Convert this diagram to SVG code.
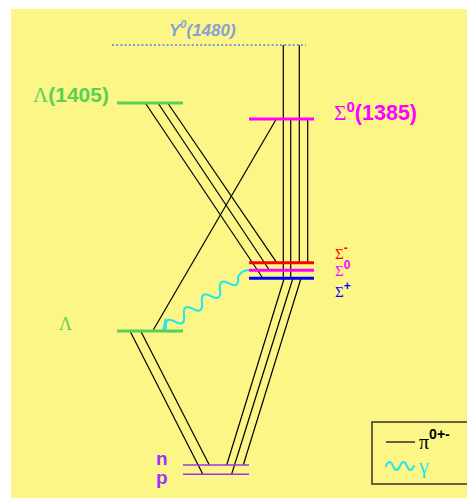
<svg xmlns="http://www.w3.org/2000/svg" width="467" height="498" viewBox="0 0 467 498">
<style>
.pi{stroke:#000;stroke-width:1.2;fill:none}
.sans{font-family:"Liberation Sans",Arial,sans-serif;font-weight:bold}
.serif{font-family:"Liberation Serif","Times New Roman",serif}
.gam{stroke:#1EE6F2;stroke-width:2;fill:none;stroke-linecap:round;stroke-linejoin:round}
</style>
<rect x="0" y="0" width="467" height="498" fill="#ffffff"/>
<rect x="11" y="9" width="456" height="489" fill="#FCF686"/>

<g id="connectors">
  <line class="pi" x1="283.3" y1="45" x2="283.3" y2="278"/>
  <line class="pi" x1="299.3" y1="45" x2="299.3" y2="262.7"/>
  <line class="pi" x1="290.7" y1="119" x2="290.7" y2="278"/>
  <line class="pi" x1="307.7" y1="119" x2="307.7" y2="262.7"/>
  <line class="pi" x1="276.3" y1="119" x2="152.7" y2="331"/>
  <line class="pi" x1="145.3" y1="103" x2="262.7" y2="278"/>
  <line class="pi" x1="158" y1="103" x2="269.3" y2="270"/>
  <line class="pi" x1="167.7" y1="103" x2="276.7" y2="262.7"/>
  <line class="pi" x1="284.3" y1="278" x2="226.7" y2="465"/>
  <line class="pi" x1="293" y1="278" x2="231.7" y2="474"/>
  <line class="pi" x1="301.1" y1="278" x2="243.3" y2="465"/>
  <line class="pi" x1="130" y1="331" x2="202.7" y2="474"/>
  <line class="pi" x1="140.7" y1="331" x2="209.3" y2="465"/>
  <path class="gam" d="M249,270 C243,270 240,273 238,277 Q239.5,289 229,283.4 T220,289.75 T211,296.1 T202,302.5 T193,308.9 T184,315.25 T175,321.6 T166,328 L163,331"/>
  <path class="gam" d="M165.5,319.5 L163,331 L175,331.5"/>
</g>

<g id="Y1480">
  <line x1="112" y1="45" x2="306" y2="45" stroke="#7F9BD6" stroke-width="2" stroke-dasharray="2,2.2"/>
  <text x="169" y="36" font-family="Liberation Sans,Arial,sans-serif" font-style="italic" font-weight="bold" font-size="17" fill="#86A0D8">Y<tspan font-size="11" dy="-8">0</tspan><tspan dy="8">(1480)</tspan></text>
</g>

<g id="L1405">
  <line x1="117" y1="103" x2="183" y2="103" stroke="#58D058" stroke-width="3"/>
  <text x="33" y="102" fill="#58D058" font-size="21"><tspan class="serif">Λ</tspan><tspan class="sans">(1405)</tspan></text>
</g>

<g id="S1385">
  <line x1="249" y1="119" x2="314" y2="119" stroke="#FF00FF" stroke-width="3"/>
  <text x="334" y="120" fill="#FF00FF" font-size="21.5"><tspan class="serif">Σ</tspan><tspan class="sans" font-size="15" dy="-8">0</tspan><tspan class="sans" dy="8">(1385)</tspan></text>
</g>

<g id="Sigmas">
  <line x1="249" y1="262.7" x2="314" y2="262.7" stroke="#FF0000" stroke-width="3"/>
  <line x1="249" y1="270.3" x2="314" y2="270.3" stroke="#FF00FF" stroke-width="3"/>
  <line x1="249" y1="278.3" x2="314" y2="278.3" stroke="#0000FF" stroke-width="3"/>
  <text x="335" y="259" fill="#FF0000" font-size="15"><tspan class="serif">Σ</tspan><tspan class="sans" font-size="12" dy="-7">-</tspan></text>
  <text x="335" y="276" fill="#FF00FF" font-size="15"><tspan class="serif">Σ</tspan><tspan class="sans" font-size="12" dy="-7">0</tspan></text>
  <text x="335" y="297" fill="#0000FF" font-size="15"><tspan class="serif">Σ</tspan><tspan class="sans" font-size="12" dy="-7">+</tspan></text>
</g>

<g id="Lambda">
  <line x1="117" y1="331" x2="183" y2="331" stroke="#58D058" stroke-width="3"/>
  <text x="59" y="330" class="serif" fill="#5ECC5A" font-size="18">Λ</text>
</g>

<g id="np">
  <line x1="183" y1="465" x2="249" y2="465" stroke="#9933EE" stroke-width="1.5"/>
  <line x1="183" y1="474.3" x2="249" y2="474.3" stroke="#9933EE" stroke-width="1.5"/>
  <text x="156" y="465" class="sans" fill="#9933FF" font-size="19">n</text>
  <text x="156" y="484" class="sans" fill="#9933FF" font-size="19">p</text>
</g>

<g id="legend">
  <rect x="372" y="422" width="110" height="62" fill="none" stroke="#333" stroke-width="1.5"/>
  <line x1="386" y1="442" x2="415" y2="442" stroke="#000" stroke-width="1.2"/>
  <text x="419" y="449" font-size="20"><tspan class="serif">π</tspan><tspan class="sans" font-size="14" dy="-10">0+-</tspan></text>
  <path class="gam" d="M386,466 Q389.5,458 393,466 T400,466 T407,466 T414,466" stroke-width="1.8"/>
  <text x="419" y="473" class="serif" fill="#1EE6F2" font-size="22">γ</text>
</g>
</svg>
